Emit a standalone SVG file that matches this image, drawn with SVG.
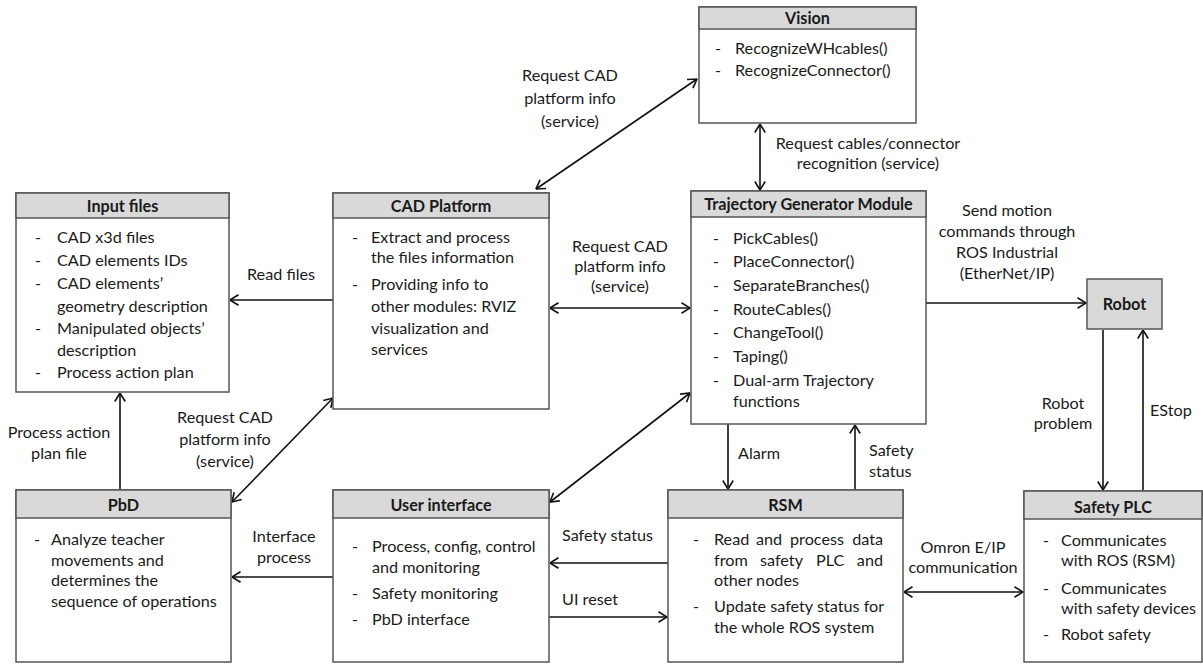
<svg xmlns="http://www.w3.org/2000/svg" width="1203" height="664" viewBox="0 0 1203 664">
<style>
.box{fill:#fff;stroke:#555;stroke-width:1.5}
.hdr{fill:#d9d9d9;stroke:#555;stroke-width:1.5}
.t{font-family:Lato,"Open Sans","Liberation Sans",sans-serif;font-size:16.2px;fill:#1a1a1a}
.b{font-weight:bold;text-anchor:middle}
.m{text-anchor:middle}
.e{text-anchor:end}
.c{stroke:#111;stroke-width:1.6;fill:none}
</style>
<defs>
<marker id="ah" markerUnits="userSpaceOnUse" viewBox="0 0 10 12" refX="9.5" refY="6" markerWidth="10" markerHeight="12" orient="auto-start-reverse">
<path d="M1,0.8 L9.5,6 L1,11.2" fill="none" stroke="#111" stroke-width="1.6"/>
</marker>
</defs>
<rect width="1203" height="664" fill="#fff"/>

<g id="connectors">
<line class="c" x1="536" y1="189" x2="697" y2="79" marker-start="url(#ah)" marker-end="url(#ah)"/>
<line class="c" x1="760" y1="124" x2="760" y2="190" marker-start="url(#ah)" marker-end="url(#ah)"/>
<line class="c" x1="550" y1="308" x2="690" y2="308" marker-start="url(#ah)" marker-end="url(#ah)"/>
<line class="c" x1="333" y1="300" x2="230" y2="300" marker-end="url(#ah)"/>
<line class="c" x1="926" y1="303" x2="1086" y2="303" marker-end="url(#ah)"/>
<line class="c" x1="728" y1="424" x2="728" y2="489" marker-end="url(#ah)"/>
<line class="c" x1="855" y1="490" x2="855" y2="425" marker-end="url(#ah)"/>
<line class="c" x1="550" y1="502" x2="690" y2="393" marker-start="url(#ah)" marker-end="url(#ah)"/>
<line class="c" x1="232" y1="502" x2="333" y2="398" marker-start="url(#ah)" marker-end="url(#ah)"/>
<line class="c" x1="120" y1="490" x2="120" y2="393" marker-end="url(#ah)"/>
<line class="c" x1="333" y1="577" x2="232" y2="577" marker-end="url(#ah)"/>
<line class="c" x1="668" y1="563" x2="550" y2="563" marker-end="url(#ah)"/>
<line class="c" x1="549" y1="617" x2="667" y2="617" marker-end="url(#ah)"/>
<line class="c" x1="904" y1="592" x2="1023" y2="592" marker-start="url(#ah)" marker-end="url(#ah)"/>
<line class="c" x1="1103" y1="330" x2="1103" y2="490" marker-end="url(#ah)"/>
<line class="c" x1="1143" y1="491" x2="1143" y2="330" marker-end="url(#ah)"/>

<text class="t m" x="570" y="81">Request CAD</text>
<text class="t m" x="570" y="104">platform info</text>
<text class="t m" x="570" y="127">(service)</text>
<text class="t m" x="868" y="149">Request cables/connector</text>
<text class="t m" x="868" y="169">recognition (service)</text>
<text class="t m" x="620" y="252">Request CAD</text>
<text class="t m" x="620" y="272">platform info</text>
<text class="t m" x="620" y="292">(service)</text>
<text class="t m" x="281" y="280">Read files</text>
<text class="t m" x="1007" y="216">Send motion</text>
<text class="t m" x="1007" y="237">commands through</text>
<text class="t m" x="1007" y="258">ROS Industrial</text>
<text class="t m" x="1007" y="279">(EtherNet/IP)</text>
<text class="t" x="738" y="459">Alarm</text>
<text class="t" x="869" y="456">Safety</text>
<text class="t" x="869" y="477">status</text>
<text class="t m" x="225" y="423">Request CAD</text>
<text class="t m" x="225" y="445">platform info</text>
<text class="t m" x="225" y="467">(service)</text>
<text class="t m" x="59" y="438">Process action</text>
<text class="t m" x="59" y="459">plan file</text>
<text class="t m" x="284" y="542">Interface</text>
<text class="t m" x="284" y="563">process</text>
<text class="t" x="562" y="541">Safety status</text>
<text class="t" x="562" y="605">UI reset</text>
<text class="t m" x="963" y="553">Omron E/IP</text>
<text class="t m" x="963" y="573">communication</text>
<text class="t m" x="1063" y="409">Robot</text>
<text class="t m" x="1063" y="429">problem</text>
<text class="t" x="1150" y="416">EStop</text>
</g>

<g id="vision">
<rect class="box" x="699" y="7" width="217" height="116"/>
<rect class="hdr" x="699" y="7" width="217" height="22"/>
<text class="t b" x="807.5" y="24">Vision</text>
<text class="t" x="715" y="54">-</text><text class="t" x="735" y="54">RecognizeWHcables()</text>
<text class="t" x="715" y="76">-</text><text class="t" x="735" y="76">RecognizeConnector()</text>
</g>

<g id="input-files">
<rect class="box" x="16" y="193" width="213" height="199"/>
<rect class="hdr" x="16" y="193" width="213" height="25"/>
<text class="t b" x="122.5" y="212">Input files</text>
<text class="t" x="35" y="243">-</text><text class="t" x="57" y="243">CAD x3d files</text>
<text class="t" x="35" y="266">-</text><text class="t" x="57" y="266">CAD elements IDs</text>
<text class="t" x="35" y="289">-</text><text class="t" x="57" y="289">CAD elements’</text>
<text class="t" x="57" y="312">geometry description</text>
<text class="t" x="35" y="334">-</text><text class="t" x="57" y="334">Manipulated objects’</text>
<text class="t" x="57" y="356">description</text>
<text class="t" x="35" y="378">-</text><text class="t" x="57" y="378">Process action plan</text>
</g>

<g id="cad-platform">
<rect class="box" x="333" y="193" width="216" height="216"/>
<rect class="hdr" x="333" y="193" width="216" height="25"/>
<text class="t b" x="441" y="212">CAD Platform</text>
<text class="t" x="352" y="243">-</text><text class="t" x="371" y="243">Extract and process</text>
<text class="t" x="371" y="263">the files information</text>
<text class="t" x="352" y="290">-</text><text class="t" x="371" y="290">Providing info to</text>
<text class="t" x="371" y="312">other modules: RVIZ</text>
<text class="t" x="371" y="334">visualization and</text>
<text class="t" x="371" y="355">services</text>
</g>

<g id="trajectory-generator">
<rect class="box" x="691" y="191" width="235" height="233"/>
<rect class="hdr" x="691" y="191" width="235" height="26"/>
<text class="t b" x="808.5" y="210">Trajectory Generator Module</text>
<text class="t" x="713" y="244">-</text><text class="t" x="733" y="244">PickCables()</text>
<text class="t" x="713" y="267">-</text><text class="t" x="733" y="267">PlaceConnector()</text>
<text class="t" x="713" y="291">-</text><text class="t" x="733" y="291">SeparateBranches()</text>
<text class="t" x="713" y="315">-</text><text class="t" x="733" y="315">RouteCables()</text>
<text class="t" x="713" y="338">-</text><text class="t" x="733" y="338">ChangeTool()</text>
<text class="t" x="713" y="362">-</text><text class="t" x="733" y="362">Taping()</text>
<text class="t" x="713" y="386">-</text><text class="t" x="733" y="386">Dual-arm Trajectory</text>
<text class="t" x="733" y="407">functions</text>
</g>

<g id="robot">
<rect class="hdr" x="1087" y="279" width="75" height="50"/>
<text class="t b" x="1124.5" y="310">Robot</text>
</g>

<g id="pbd">
<rect class="box" x="16" y="490" width="215" height="172"/>
<rect class="hdr" x="16" y="490" width="215" height="28"/>
<text class="t b" x="123.5" y="511">PbD</text>
<text class="t" x="34" y="545">-</text><text class="t" x="51" y="545">Analyze teacher</text>
<text class="t" x="51" y="566">movements and</text>
<text class="t" x="51" y="586">determines the</text>
<text class="t" x="51" y="607">sequence of operations</text>
</g>

<g id="user-interface">
<rect class="box" x="333" y="490" width="216" height="172"/>
<rect class="hdr" x="333" y="490" width="216" height="28"/>
<text class="t b" x="441" y="511">User interface</text>
<text class="t" x="352" y="552">-</text><text class="t" x="372" y="552">Process, config, control</text>
<text class="t" x="372" y="573">and monitoring</text>
<text class="t" x="352" y="599">-</text><text class="t" x="372" y="599">Safety monitoring</text>
<text class="t" x="352" y="625">-</text><text class="t" x="372" y="625">PbD interface</text>
</g>

<g id="rsm">
<rect class="box" x="668" y="490" width="235" height="172"/>
<rect class="hdr" x="668" y="490" width="235" height="28"/>
<text class="t b" x="785.5" y="511">RSM</text>
<text class="t" x="693" y="545">-</text>
<text class="t" x="714" y="545">Read</text><text class="t" x="756" y="545">and</text><text class="t" x="790" y="545">process</text><text class="t e" x="883" y="545">data</text>
<text class="t" x="714" y="566">from</text><text class="t" x="760" y="566">safety</text><text class="t" x="816" y="566">PLC</text><text class="t e" x="883" y="566">and</text>
<text class="t" x="714" y="586">other nodes</text>
<text class="t" x="693" y="612">-</text><text class="t" x="714" y="612">Update safety status for</text>
<text class="t" x="714" y="633">the whole ROS system</text>
</g>

<g id="safety-plc">
<rect class="box" x="1024" y="491" width="178" height="171"/>
<rect class="hdr" x="1024" y="491" width="178" height="28"/>
<text class="t b" x="1113" y="513">Safety PLC</text>
<text class="t" x="1043" y="546">-</text><text class="t" x="1061" y="546">Communicates</text>
<text class="t" x="1061" y="566">with ROS (RSM)</text>
<text class="t" x="1043" y="594">-</text><text class="t" x="1061" y="594">Communicates</text>
<text class="t" x="1061" y="614">with safety devices</text>
<text class="t" x="1043" y="640">-</text><text class="t" x="1061" y="640">Robot safety</text>
</g>
</svg>
